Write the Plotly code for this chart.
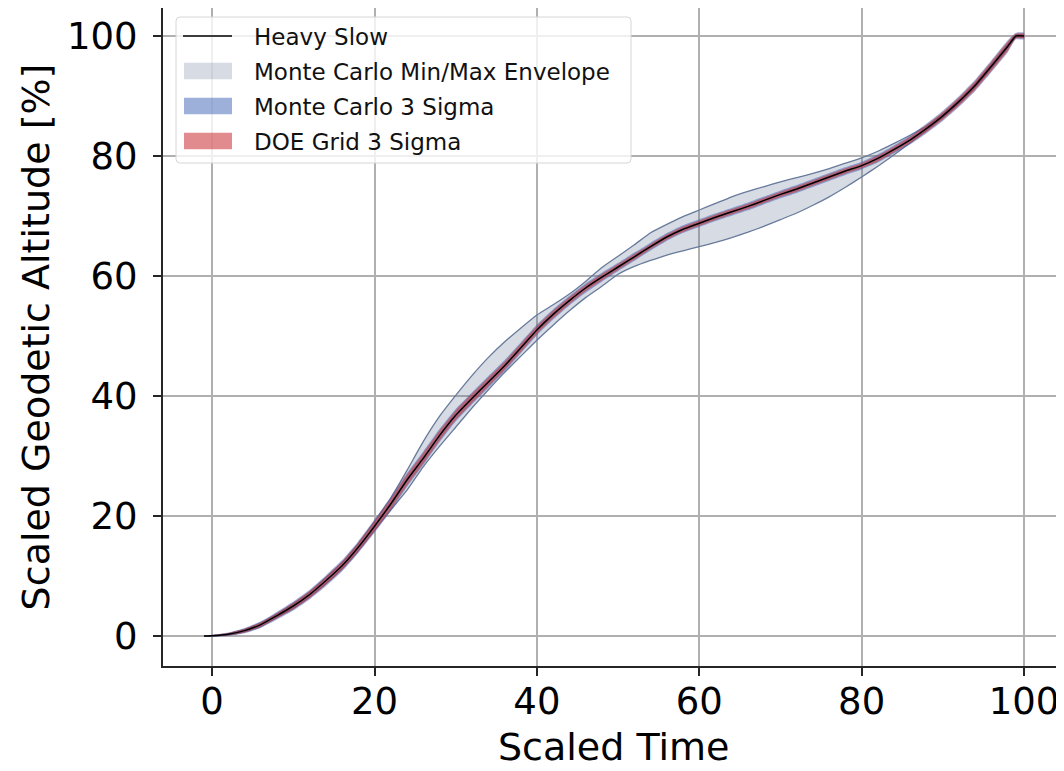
import plotly.graph_objects as go

# ---- data ----
t = [-1, 0, 2, 4, 6, 8, 10, 12, 14, 16, 18, 20,
     22, 24, 26, 28, 30, 32, 34, 36, 38, 40,
     42, 44, 46, 48, 50, 52, 54, 56, 58, 60,
     62, 64, 66, 68, 70, 72, 74, 76, 78, 80,
     82, 84, 86, 88, 90, 92, 94, 96, 98, 99, 100]

heavy_slow = [0.0, 0.05, 0.3, 0.9, 1.9, 3.4, 5.0, 6.9, 9.2, 11.7, 14.8, 18.3,
              22.0, 26.0, 29.6, 33.4, 36.8, 39.6, 42.3, 45.0, 48.0, 51.0,
              53.6, 55.9, 58.0, 59.8, 61.5, 63.2, 64.9, 66.5, 67.8, 68.8,
              69.8, 70.7, 71.6, 72.6, 73.6, 74.5, 75.5, 76.5, 77.5, 78.4,
              79.6, 81.1, 82.7, 84.6, 86.7, 89.1, 91.8, 95.0, 98.3, 100.0, 100.0]

mc_max = [0.0, 0.1, 0.4, 1.1, 2.2, 3.7, 5.4, 7.3, 9.7, 12.2, 15.4, 19.1,
          23.0, 27.6, 32.4, 36.6, 40.1, 43.4, 46.4, 49.0, 51.3, 53.5,
          55.2, 57.0, 59.1, 61.4, 63.3, 65.2, 67.2, 68.6, 69.9, 71.0,
          72.1, 73.2, 74.1, 74.9, 75.7, 76.4, 77.1, 77.9, 78.8, 79.7,
          80.8, 82.1, 83.5, 85.0, 87.0, 89.4, 92.1, 95.3, 98.6, 100.2, 100.2]

mc_min = [0.0, 0.0, 0.2, 0.7, 1.6, 3.1, 4.6, 6.5, 8.7, 11.2, 14.2, 17.6,
          21.0, 24.3, 28.2, 31.6, 34.8, 38.0, 41.0, 43.9, 46.6, 49.3,
          51.8, 54.2, 56.4, 58.3, 60.3, 61.6, 62.6, 63.5, 64.2, 64.9,
          65.6, 66.4, 67.3, 68.3, 69.4, 70.5, 71.8, 73.2, 74.8, 76.5,
          78.3, 80.2, 82.2, 84.3, 86.4, 88.8, 91.5, 94.7, 98.0, 99.8, 99.8]

mc_3sigma_half = [0.05, 0.15, 0.3, 0.45, 0.55, 0.65, 0.75, 0.8, 0.9, 0.95, 1.0, 1.1,
                  1.15, 1.15, 1.15, 1.1, 1.05, 1.0, 1.0, 0.95, 0.9, 0.9,
                  0.85, 0.8, 0.8, 0.75, 0.7, 0.7, 0.65, 0.65, 0.65, 0.65,
                  0.65, 0.65, 0.65, 0.65, 0.65, 0.65, 0.65, 0.65, 0.65, 0.65,
                  0.7, 0.7, 0.75, 0.8, 0.85, 0.9, 0.95, 1.0, 1.0, 0.55, 0.55]

doe_3sigma_half = [0.0, 0.1, 0.2, 0.3, 0.4, 0.45, 0.55, 0.6, 0.65, 0.7, 0.75, 0.85,
                   0.9, 0.9, 0.9, 0.85, 0.8, 0.8, 0.75, 0.7, 0.7, 0.65,
                   0.65, 0.6, 0.55, 0.55, 0.5, 0.5, 0.45, 0.45, 0.45, 0.45,
                   0.45, 0.45, 0.45, 0.45, 0.45, 0.45, 0.45, 0.45, 0.45, 0.45,
                   0.5, 0.5, 0.55, 0.6, 0.65, 0.7, 0.75, 0.8, 0.8, 0.4, 0.4]

x_ticks = [0, 20, 40, 60, 80, 100]
y_ticks = [0, 20, 40, 60, 80, 100]

x_title = "Scaled Time"
y_title = "Scaled Geodetic Altitude [%]"
legend_labels = ["Heavy Slow", "Monte Carlo Min/Max Envelope",
                 "Monte Carlo 3 Sigma", "DOE Grid 3 Sigma"]

FONT = "DejaVu Sans"
C_LINE = "black"
C_ENV = "rgba(100,115,150,0.26)"
C_ENV_EDGE = "#677a9b"
C_MC = "rgba(60,97,180,0.5)"
C_DOE = "rgba(205,55,60,0.58)"

# page is rendered with an 8px body margin -> offset page pixels by 8
OFF = 8
W, H = 1056, 771
ML, MR, MT, MB = 155, 0, 0, 113
PW, PH = W - ML - MR, H - MT - MB


def px2x(page_px):
    return (page_px - OFF - ML) / PW


def px2y(page_py):
    return (H - MB - (page_py - OFF)) / PH


def band(lower, upper):
    return t + t[::-1], upper + lower[::-1]


fig = go.Figure()
SPL = dict(shape="spline", smoothing=0.5)

# Monte Carlo min/max envelope
ex, ey = band(mc_min, mc_max)
fig.add_trace(go.Scatter(x=ex, y=ey, fill="toself", mode="lines",
                         line=dict(width=0, color="rgba(0,0,0,0)", **SPL),
                         fillcolor=C_ENV, name=legend_labels[1],
                         showlegend=False, hoverinfo="skip"))
for edge in (mc_max, mc_min):
    fig.add_trace(go.Scatter(x=t, y=edge, mode="lines",
                             line=dict(width=1.3, color=C_ENV_EDGE, **SPL),
                             showlegend=False, hoverinfo="skip"))

# Monte Carlo 3 sigma
mc_lo = [m - h for m, h in zip(heavy_slow, mc_3sigma_half)]
mc_hi = [m + h for m, h in zip(heavy_slow, mc_3sigma_half)]
sx, sy = band(mc_lo, mc_hi)
fig.add_trace(go.Scatter(x=sx, y=sy, fill="toself", mode="lines",
                         line=dict(width=0, color="rgba(0,0,0,0)", **SPL),
                         fillcolor=C_MC, name=legend_labels[2],
                         showlegend=False, hoverinfo="skip"))

# DOE grid 3 sigma
d_lo = [m - h for m, h in zip(heavy_slow, doe_3sigma_half)]
d_hi = [m + h for m, h in zip(heavy_slow, doe_3sigma_half)]
dx, dy = band(d_lo, d_hi)
fig.add_trace(go.Scatter(x=dx, y=dy, fill="toself", mode="lines",
                         line=dict(width=0, color="rgba(0,0,0,0)", **SPL),
                         fillcolor=C_DOE, name=legend_labels[3],
                         showlegend=False, hoverinfo="skip"))

# nominal trajectory
fig.add_trace(go.Scatter(x=t, y=heavy_slow, mode="lines",
                         line=dict(width=1.5, color=C_LINE, **SPL),
                         name=legend_labels[0], showlegend=False))

axis_common = dict(
    showgrid=True, gridcolor="#b0b0b0", gridwidth=1.5, automargin=False,
    zeroline=False, showline=True, linecolor="#262626", linewidth=2,
    ticks="outside", ticklen=8, tickwidth=1.5, tickcolor="#262626",
    tickfont=dict(family=FONT, size=37, color="black"),
)

fig.update_xaxes(**axis_common, range=[-6.05, 104.92], tickvals=x_ticks,
                 mirror=True, ticklabelstandoff=-6)
fig.update_yaxes(**axis_common, range=[-5, 104.67], tickvals=y_ticks,
                 ticklabelstandoff=8,
                 title=dict(text=y_title, standoff=6,
                            font=dict(family=FONT, size=38, color="black")))

shapes = []
annotations = []

# x-axis title
annotations.append(dict(xref="paper", yref="paper", x=0.5, y=px2y(747),
                        xanchor="center", yanchor="middle", text=x_title,
                        showarrow=False,
                        font=dict(family=FONT, size=38, color="black")))

# ---- manual legend (matplotlib style) ----
bx0, bx1, by0, by1, r = 176, 631, 17, 163, 4
path = (f"M {px2x(bx0 + r)} {px2y(by0)} L {px2x(bx1 - r)} {px2y(by0)} "
        f"Q {px2x(bx1)} {px2y(by0)} {px2x(bx1)} {px2y(by0 + r)} "
        f"L {px2x(bx1)} {px2y(by1 - r)} "
        f"Q {px2x(bx1)} {px2y(by1)} {px2x(bx1 - r)} {px2y(by1)} "
        f"L {px2x(bx0 + r)} {px2y(by1)} "
        f"Q {px2x(bx0)} {px2y(by1)} {px2x(bx0)} {px2y(by1 - r)} "
        f"L {px2x(bx0)} {px2y(by0 + r)} "
        f"Q {px2x(bx0)} {px2y(by0)} {px2x(bx0 + r)} {px2y(by0)} Z")
shapes.append(dict(type="path", xref="paper", yref="paper", path=path,
                   fillcolor="rgba(255,255,255,0.8)",
                   line=dict(color="#d6d6d6", width=1), layer="above"))

rows = [36, 71, 106, 141]
shapes.append(dict(type="line", xref="paper", yref="paper",
                   x0=px2x(183), x1=px2x(232), y0=px2y(rows[0]), y1=px2y(rows[0]),
                   line=dict(color=C_LINE, width=1.5), layer="above"))
for ry, col in zip(rows[1:], [C_ENV, C_MC, C_DOE]):
    shapes.append(dict(type="rect", xref="paper", yref="paper",
                       x0=px2x(184), x1=px2x(232),
                       y0=px2y(ry - 8.3), y1=px2y(ry + 8.3),
                       fillcolor=col, line=dict(width=0), layer="above"))
for ry, lab in zip(rows, legend_labels):
    annotations.append(dict(xref="paper", yref="paper", x=px2x(252),
                            y=px2y(ry + 1), xanchor="left", yanchor="middle",
                            text=lab, showarrow=False,
                            font=dict(family=FONT, size=23, color="#111")))

fig.update_layout(
    width=W, height=H,
    margin=dict(l=ML, r=MR, t=MT, b=MB, autoexpand=False),
    plot_bgcolor="white", paper_bgcolor="white",
    font=dict(family=FONT, color="black"),
    showlegend=False,
    shapes=shapes, annotations=annotations,
)

fig.write_html("out.html")
